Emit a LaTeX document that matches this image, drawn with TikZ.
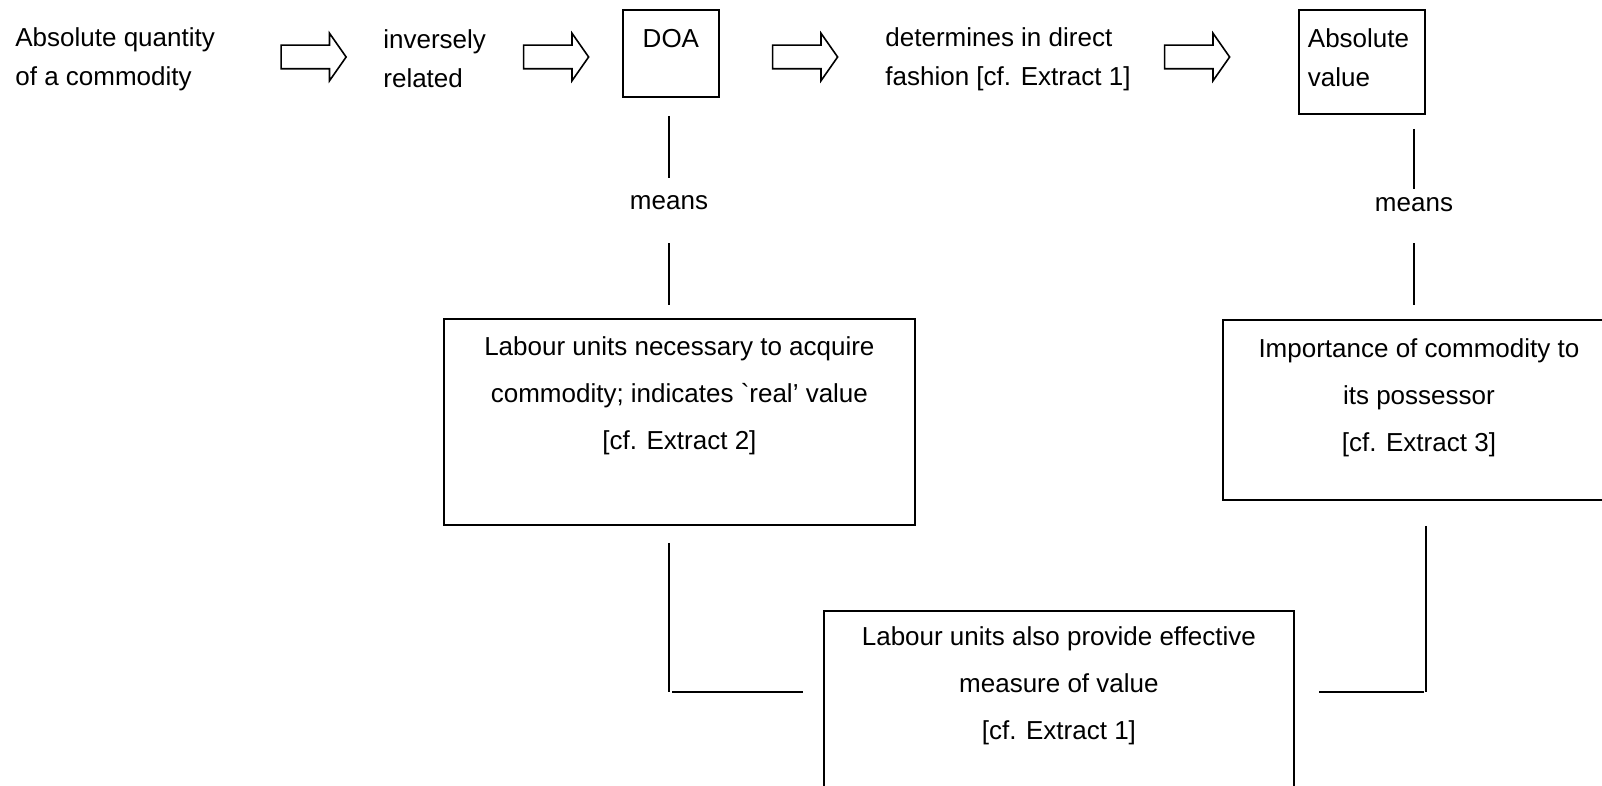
\documentclass[tikz,border=0pt]{standalone}
\usepackage{fontspec}
\setmainfont{Liberation Sans}
\usetikzlibrary{shapes.arrows}

% box text: width, height, first baseline, lines
\newcommand{\boxtext}[4]{\parbox[c][#2][t]{#1}{\centering\rule{0pt}{#3}#4}}
\newcommand{\leftboxtext}[4]{\parbox[c][#2][t]{#1}{\raggedright\leftskip=4.5pt\rule{0pt}{#3}#4}}

\begin{document}
\begin{tikzpicture}[x=0.5pt, y=-0.5pt,
    rowtext/.style={align=left, inner sep=0pt, anchor=west, font=\fontsize{13pt}{19.5pt}\selectfont},
    hollow/.style={single arrow, draw, line width=0.8pt, inner xsep=0pt, inner ysep=5.5pt,
        minimum height=32.5pt, single arrow head extend=6pt, single arrow tip angle=110},
    box/.style={draw, line width=0.9pt, inner sep=0pt, anchor=north west},
    boxfont/.style={font=\fontsize{13pt}{23.3pt}\selectfont},
    meanslbl/.style={inner sep=0pt, minimum height=25pt, font=\fontsize{13pt}{15pt}\selectfont},
    link/.style={line width=0.9pt}]

    \useasboundingbox (0,0) rectangle (1602,786);
    \clip (0,0) rectangle (1602,786);

    % Top row
    \node[rowtext] (quantity) at (15,59) {Absolute quantity\\of a commodity};
    \node[hollow] (ar1) at (309.5,57) {};
    \node[rowtext] (inverse) at (383,59) {inversely\\related};
    \node[hollow] (ar2) at (552,57) {};
    \node[box, boxfont] (doa) at (622,9) {\boxtext{48pt}{43.5pt}{19pt}{DOA}};
    \node[hollow] (ar3) at (801,57) {};
    \node[rowtext] (direct) at (885,59) {determines in direct\\fashion [cf. Extract 1]};
    \node[hollow] (ar4) at (1193,57) {};
    \node[box, font=\fontsize{13pt}{19.5pt}\selectfont] (absval) at (1298,9)
        {\leftboxtext{63pt}{52pt}{19pt}{Absolute\\value}};

    % What each one means
    \node[meanslbl] (means1) at (669,203) {means};
    \node[meanslbl] (means2) at (1414,205) {means};
    \node[box, boxfont] (labour) at (443,318)
        {\boxtext{235.5pt}{103pt}{18.5pt}{Labour units necessary to acquire\\commodity; indicates \textasciigrave real' value\\{}[cf. Extract 2]}};
    \node[box, boxfont] (importance) at (1222,319)
        {\boxtext{196pt}{90pt}{19pt}{Importance of commodity to\\its possessor\\{}[cf. Extract 3]}};
    \node[box, boxfont] (measure) at (823,610)
        {\boxtext{235pt}{100pt}{17.5pt}{Labour units also provide effective\\measure of value\\{}[cf. Extract 1]}};

    \draw[link, shorten <=9pt] (means1 |- doa.south) -- (means1.north);
    \draw[link, shorten <=7.5pt, shorten >=6.5pt] (means1.south) -- (means1 |- labour.north);
    \draw[link, shorten <=7pt, shorten >=-4.5pt] (means2 |- absval.south) -- (means2.north);
    \draw[link, shorten <=6.5pt, shorten >=7pt] (means2.south) -- (means2 |- importance.north);

    % Joining lines to the bottom box
    \coordinate (jl) at (669,692);
    \coordinate (jr) at (1426,692);
    \draw[link, shorten <=8.5pt] (jl |- labour.south) -- (jl);
    \draw[link, shorten <=1.5pt, shorten >=10pt] (jl) -- (jl -| measure.west);
    \draw[link, shorten <=12.5pt] (jr |- importance.south) -- (jr);
    \draw[link, shorten <=1pt, shorten >=12pt] (jr) -- (jr -| measure.east);
\end{tikzpicture}
\end{document}
